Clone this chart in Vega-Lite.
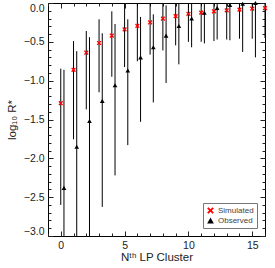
{
  "$schema": "https://vega.github.io/schema/vega-lite/v6.json",
  "autosize": {"type": "none"},
  "width": 217,
  "height": 233,
  "padding": {"left": 48, "top": 3, "right": 10, "bottom": 32},
  "background": "white",
  "config": {
    "view": {"stroke": "#000", "strokeWidth": 1},
    "font": "Liberation Sans",
    "axis": {
      "domain": false,
      "grid": false,
      "labelFont": "Liberation Sans",
      "labelFontSize": 10.5,
      "labelColor": "#222",
      "tickColor": "#222",
      "tickWidth": 1,
      "titleFont": "Liberation Sans",
      "titleFontSize": 11.5,
      "titleFontWeight": "normal",
      "titleColor": "#222"
    }
  },
  "data": {
    "values": [
      {"n": 0, "type": "Simulated", "value": -1.29, "lo": -2.6, "hi": -0.845},
      {"n": 1, "type": "Simulated", "value": -0.86, "lo": -1.755, "hi": -0.49},
      {"n": 2, "type": "Simulated", "value": -0.64, "lo": -1.37, "hi": -0.36},
      {"n": 3, "type": "Simulated", "value": -0.515, "lo": -1.15, "hi": -0.21},
      {"n": 4, "type": "Simulated", "value": -0.42, "lo": -0.95, "hi": -0.107},
      {"n": 5, "type": "Simulated", "value": -0.34, "lo": -0.825, "hi": 0},
      {"n": 6, "type": "Simulated", "value": -0.295, "lo": -0.75, "hi": 0},
      {"n": 7, "type": "Simulated", "value": -0.25, "lo": -0.665, "hi": 0},
      {"n": 8, "type": "Simulated", "value": -0.2, "lo": -0.61, "hi": 0},
      {"n": 9, "type": "Simulated", "value": -0.17, "lo": -0.545, "hi": 0},
      {"n": 10, "type": "Simulated", "value": -0.14, "lo": -0.5, "hi": 0},
      {"n": 11, "type": "Simulated", "value": -0.125, "lo": -0.5, "hi": 0},
      {"n": 12, "type": "Simulated", "value": -0.107, "lo": -0.49, "hi": 0},
      {"n": 13, "type": "Simulated", "value": -0.094, "lo": -0.47, "hi": 0},
      {"n": 14, "type": "Simulated", "value": -0.086, "lo": -0.46, "hi": 0},
      {"n": 15, "type": "Simulated", "value": -0.072, "lo": -0.46, "hi": 0},
      {"n": 16, "type": "Simulated", "value": -0.065, "lo": -0.45, "hi": 0},
      {"n": 0, "type": "Observed", "value": -2.38, "lo": -3.0, "hi": -0.86},
      {"n": 1, "type": "Observed", "value": -1.85, "lo": -3.0, "hi": -0.62},
      {"n": 2, "type": "Observed", "value": -1.52, "lo": -3.0, "hi": -0.44},
      {"n": 3, "type": "Observed", "value": -1.26, "lo": -2.625, "hi": -0.39},
      {"n": 4, "type": "Observed", "value": -1.06, "lo": -2.22, "hi": -0.27},
      {"n": 5, "type": "Observed", "value": -0.87, "lo": -1.83, "hi": -0.21},
      {"n": 6, "type": "Observed", "value": -0.7, "lo": -1.53, "hi": -0.18},
      {"n": 7, "type": "Observed", "value": -0.57, "lo": -1.28, "hi": -0.146},
      {"n": 8, "type": "Observed", "value": -0.42, "lo": -1.03, "hi": -0.03},
      {"n": 9, "type": "Observed", "value": -0.295, "lo": -0.79, "hi": 0},
      {"n": 10, "type": "Observed", "value": -0.2, "lo": -0.57, "hi": 0},
      {"n": 11, "type": "Observed", "value": -0.125, "lo": -0.52, "hi": 0},
      {"n": 12, "type": "Observed", "value": -0.064, "lo": -0.47, "hi": 0},
      {"n": 13, "type": "Observed", "value": -0.025, "lo": -0.48, "hi": 0},
      {"n": 14, "type": "Observed", "value": -0.01, "lo": -0.63, "hi": 0},
      {"n": 15, "type": "Observed", "value": 0.0, "lo": -0.7, "hi": 0}
    ]
  },
  "layer": [
    {
      "transform": [{"filter": "datum.type === 'Simulated'"}],
      "mark": {"type": "rule", "color": "#000", "strokeWidth": 1, "clip": true},
      "encoding": {
        "x": {"field": "n", "type": "quantitative",
          "scale": {"domain": [-1, 16], "nice": false, "zero": false},
          "axis": {"orient": "bottom", "values": [0, 5, 10, 15], "format": "d", "tickSize": -5, "labelPadding": 9, "title": "Nᵗʰ LP Cluster", "titlePadding": 1}},
        "y": {"field": "lo", "type": "quantitative",
          "scale": {"domain": [-3, 0], "nice": false, "zero": false},
          "axis": {"orient": "left", "values": [0, -0.5, -1, -1.5, -2, -2.5, -3], "format": ".1f", "tickSize": -5, "labelPadding": 9, "labelFlush": true, "title": "log₁₀ R*", "titlePadding": 6}},
        "y2": {"field": "hi"}
      }
    },
    {
      "transform": [{"filter": "datum.type === 'Observed'"}],
      "mark": {"type": "rule", "color": "#000", "strokeWidth": 1, "clip": true, "xOffset": 3.2},
      "encoding": {
        "x": {"field": "n", "type": "quantitative",
          "axis": {"orient": "bottom", "values": [-1, 0, 1, 2, 3, 4, 5, 6, 7, 8, 9, 10, 11, 12, 13, 14, 15, 16], "tickSize": -3, "labels": false, "title": null}},
        "y": {"field": "lo", "type": "quantitative",
          "axis": {"orient": "left", "values": [0, -0.1, -0.2, -0.3, -0.4, -0.5, -0.6, -0.7, -0.8, -0.9, -1, -1.1, -1.2, -1.3, -1.4, -1.5, -1.6, -1.7, -1.8, -1.9, -2, -2.1, -2.2, -2.3, -2.4, -2.5, -2.6, -2.7, -2.8, -2.9, -3], "tickSize": -3, "labels": false, "title": null}},
        "y2": {"field": "hi"}
      }
    },
    {
      "transform": [{"filter": "datum.type === 'Simulated'"}],
      "mark": {"type": "point", "filled": true, "size": 22, "opacity": 1},
      "encoding": {
        "x": {"field": "n", "type": "quantitative",
          "axis": {"orient": "top", "values": [0, 5, 10, 15], "tickSize": -5, "labels": false, "title": null}},
        "y": {"field": "value", "type": "quantitative",
          "axis": {"orient": "right", "values": [0, -0.5, -1, -1.5, -2, -2.5, -3], "tickSize": -5, "labels": false, "title": null}},
        "color": {"field": "type", "type": "nominal",
          "scale": {"domain": ["Simulated", "Observed"], "range": ["#ff0000", "#000000"]},
          "legend": {"title": null, "orient": "bottom-right", "offset": 8, "strokeColor": "#777", "padding": 3, "labelFontSize": 8, "labelColor": "#444", "symbolSize": 45, "rowPadding": 1, "labelOffset": 3}},
        "shape": {"field": "type", "type": "nominal",
          "scale": {"domain": ["Simulated", "Observed"], "range": ["M-1,-0.6L-0.6,-1L0,-0.4L0.6,-1L1,-0.6L0.4,0L1,0.6L0.6,1L0,0.4L-0.6,1L-1,0.6L-0.4,0Z", "triangle-up"]}}
      }
    },
    {
      "transform": [{"filter": "datum.type === 'Observed'"}],
      "mark": {"type": "point", "filled": true, "size": 22, "opacity": 1, "xOffset": 3.2},
      "encoding": {
        "x": {"field": "n", "type": "quantitative",
          "axis": {"orient": "top", "values": [-1, 0, 1, 2, 3, 4, 5, 6, 7, 8, 9, 10, 11, 12, 13, 14, 15, 16], "tickSize": -3, "labels": false, "title": null}},
        "y": {"field": "value", "type": "quantitative",
          "axis": {"orient": "right", "values": [0, -0.1, -0.2, -0.3, -0.4, -0.5, -0.6, -0.7, -0.8, -0.9, -1, -1.1, -1.2, -1.3, -1.4, -1.5, -1.6, -1.7, -1.8, -1.9, -2, -2.1, -2.2, -2.3, -2.4, -2.5, -2.6, -2.7, -2.8, -2.9, -3], "tickSize": -3, "labels": false, "title": null}},
        "color": {"field": "type", "type": "nominal"},
        "shape": {"field": "type", "type": "nominal"}
      }
    }
  ],
  "resolve": {"axis": {"x": "independent", "y": "independent"}}
}
